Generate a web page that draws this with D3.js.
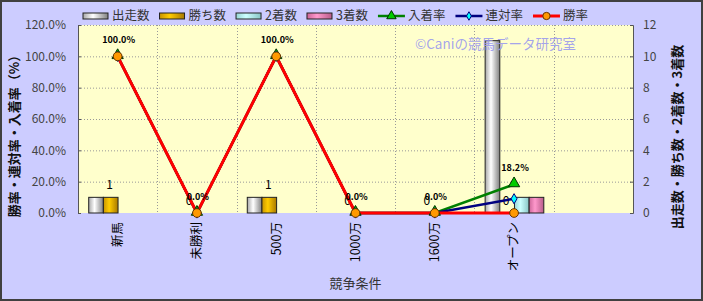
<!DOCTYPE html>
<html>
<head>
<meta charset="utf-8">
<script src="https://cdn.jsdelivr.net/npm/d3@7/dist/d3.min.js"></script>
<style>
body{margin:0;background:#fff;}
svg text{font-family:"Noto Sans CJK JP","Noto Sans",sans-serif;}
</style>
</head>
<body>
<svg id="chart" width="703" height="301"></svg>
<script>
// data
var categories = ["新馬","未勝利","500万","1000万","1600万","オープン",""];
var starts  = [1,0,1,0,0,11];
var wins    = [1,0,1,0,0,0];
var seconds = [0,0,0,0,0,1];
var thirds  = [0,0,0,0,0,1];
var placeRate   = [100,0,100,0,0,18.2];
var rentaiRate  = [100,0,100,0,0,9.1];
var winRate     = [100,0,100,0,0,0];
var leftTicks  = [0,20,40,60,80,100,120];
var rightTicks = [0,2,4,6,8,10,12];

var barSeries = [
	{name:"出走数", values:starts,  id:"gGray",  c:["#a8a8a8","#ffffff","#808080"]},
	{name:"勝ち数", values:wins,    id:"gGold",  c:["#c89400","#ffcc00","#a87800"]},
	{name:"2着数",  values:seconds, id:"gCyan",  c:["#99d6d6","#ccffff","#88c4c4"]},
	{name:"3着数",  values:thirds,  id:"gPink",  c:["#cc6699","#ff99cc","#b85c8a"]}
];
var lineSeries = [
	{name:"入着率", values:placeRate,  color:"#008000", width:2.5, sym:d3.symbolTriangle, size:55, fill:"#00cc00", stroke:"#003300"},
	{name:"連対率", values:rentaiRate, color:"#000080", width:2.5, sym:d3.symbolDiamond,  size:30, fill:"#00ffff", stroke:"#000080"},
	{name:"勝率",   values:winRate,    color:"#ff0000", width:3,   sym:d3.symbolCircle,   size:60, fill:"#ff9900", stroke:"#663300"}
];

var W = 703, H = 301;
var m = {left:78, right:70, top:25, bottom:88};
var pw = W - m.left - m.right, ph = H - m.top - m.bottom;

var svg = d3.select('#chart');
var defs = svg.append('defs');
barSeries.forEach(function(s){
	var g = defs.append('linearGradient').attr('id', s.id).attr('x1','0').attr('x2','1').attr('y1','0').attr('y2','0');
	g.append('stop').attr('offset','0%').attr('stop-color', s.c[0]);
	g.append('stop').attr('offset','40%').attr('stop-color', s.c[1]);
	g.append('stop').attr('offset','100%').attr('stop-color', s.c[2]);
});

svg.append('rect').attr('x',1).attr('y',1).attr('width',W-2).attr('height',H-2)
	.attr('fill','#ccccff').attr('stroke','#404040').attr('stroke-width',2);

var g = svg.append('g').attr('transform','translate('+m.left+','+m.top+')');

var x0 = d3.scaleBand().domain(categories).range([0,pw]).padding(0);
var bw = x0.bandwidth();
var x1 = d3.scaleBand().domain(barSeries.map(function(s){return s.name;}))
	.range([bw*0.135, bw*0.875]).padding(0);
var yL = d3.scaleLinear().domain([0,120]).range([ph,0]);
var yR = d3.scaleLinear().domain([0,12]).range([ph,0]);

g.append('rect').attr('width',pw).attr('height',ph).attr('fill','#ffffcc');

// grid
g.append('g').selectAll('line').data(leftTicks.slice(1)).enter().append('line')
	.attr('x1',0).attr('x2',pw).attr('y1',function(d){return yL(d)+0.5;}).attr('y2',function(d){return yL(d)+0.5;})
	.attr('stroke','#999').attr('stroke-dasharray','1,2');
g.append('g').selectAll('line').data(categories.slice(1)).enter().append('line')
	.attr('x1',function(d){return Math.round(x0(d))+0.5;}).attr('x2',function(d){return Math.round(x0(d))+0.5;})
	.attr('y1',0).attr('y2',ph)
	.attr('stroke','#999').attr('stroke-dasharray','1,2');

// axes
var axL = g.append('g').call(d3.axisLeft(yL).tickValues(leftTicks).tickSize(-3).tickPadding(12)
	.tickFormat(function(d){return d.toFixed(1)+'%';}));
var axR = g.append('g').attr('transform','translate('+pw+',0)')
	.call(d3.axisRight(yR).tickValues(rightTicks).tickSize(-3).tickPadding(10));
[axL,axR].forEach(function(a){
	a.select('.domain').attr('stroke','#555');
	a.selectAll('.tick line').attr('stroke','#555');
	a.selectAll('text').attr('fill','#444').style('font-size','12px');
});

// bars
var groups = g.append('g').selectAll('g').data(categories.slice(0,6)).enter().append('g')
	.attr('transform',function(d){return 'translate('+x0(d)+',0)';});
groups.selectAll('rect').data(function(d,i){
		return barSeries.map(function(s){return {s:s, v:s.values[i]};});
	}).enter().filter(function(d){return d.v>0;}).append('rect')
	.attr('x',function(d){return x1(d.s.name);})
	.attr('y',function(d){return yR(d.v);})
	.attr('width',x1.bandwidth())
	.attr('height',function(d){return ph - yR(d.v);})
	.attr('fill',function(d){return 'url(#'+d.s.id+')';})
	.attr('stroke','#222').attr('stroke-width',1);

// watermark
g.append('text').attr('x',337).attr('y',24).text('©Caniの競馬データ研究室')
	.attr('fill','#9999ee').attr('fill-opacity',0.9).style('font-size','13.5px');

// win-count labels
groups.append('text')
	.attr('x',function(d){return x1('勝ち数')+x1.bandwidth()/2 - 1;})
	.attr('y',function(d,i){return yR(wins[i])-8;})
	.attr('text-anchor','middle').style('font-size','12px').style('fill','#000')
	.text(function(d,i){return wins[i];});

// lines
var line = d3.line().x(function(d,i){return x0(categories[i])+bw/2;}).y(function(d){return yL(d);});
lineSeries.forEach(function(s){
	g.append('path').datum(s.values).attr('d',line).attr('fill','none')
		.attr('stroke',s.color).attr('stroke-width',s.width);
});
lineSeries.forEach(function(s){
	g.append('g').selectAll('path').data(s.values).enter().append('path')
		.attr('d',d3.symbol().type(s.sym).size(s.size))
		.attr('transform',function(d,i){return 'translate('+(x0(categories[i])+bw/2)+','+(yL(d)-(s.sym===d3.symbolTriangle?1:0))+')';})
		.attr('fill',s.fill).attr('stroke',s.stroke).attr('stroke-width',1);
});

// rate labels
g.append('g').selectAll('text').data(placeRate).enter().append('text')
	.attr('x',function(d,i){return x0(categories[i])+bw/2 + 1;})
	.attr('y',function(d){return yL(d)-13;})
	.attr('text-anchor','middle').style('font-size','9px').style('font-weight','bold').style('fill','#000')
	.text(function(d){return d.toFixed(1)+'%';});

// category labels
g.append('g').selectAll('text').data(categories).enter().append('text')
	.attr('transform',function(d){return 'translate('+(x0(d)+bw/2)+','+(ph+9)+') rotate(-90)';})
	.attr('text-anchor','end').attr('dy','0.35em')
	.style('font-size','12.5px').style('fill','#000')
	.text(function(d){return d;});

// titles
svg.append('text').attr('x',m.left+pw/2).attr('y',288).attr('text-anchor','middle')
	.style('font-size','13px').attr('fill','#333').text('競争条件');
svg.append('text').attr('transform','translate(19,133) rotate(-90)').attr('text-anchor','middle')
	.style('font-size','13px').style('font-weight','bold').attr('fill','#111').text('勝率・連対率・入着率（%）');
svg.append('text').attr('transform','translate(682,137) rotate(-90)').attr('text-anchor','middle')
	.style('font-size','13px').style('font-weight','bold').attr('fill','#111').text('出走数・勝ち数・2着数・3着数');

// legend
var lg = svg.append('g').attr('transform','translate(83,16)');
var lx = 0;
barSeries.forEach(function(s){
	var it = lg.append('g').attr('transform','translate('+lx+',0)');
	it.append('rect').attr('x',0).attr('y',-3).attr('width',25).attr('height',6)
		.attr('fill','url(#'+s.id+')').attr('stroke','#222');
	var t = it.append('text').attr('x',29).attr('dy','0.35em').style('font-size','12.5px').attr('fill','#333').text(s.name);
	lx += 29 + t.node().getComputedTextLength() + 10;
});
lineSeries.forEach(function(s){
	var it = lg.append('g').attr('transform','translate('+lx+',0)');
	it.append('line').attr('x1',0).attr('x2',27).attr('stroke',s.color).attr('stroke-width',s.width);
	it.append('path').attr('d',d3.symbol().type(s.sym).size(s.size*0.7)).attr('transform','translate(13.5,0)')
		.attr('fill',s.fill).attr('stroke',s.stroke);
	var t = it.append('text').attr('x',30).attr('dy','0.35em').style('font-size','12.5px').attr('fill','#333').text(s.name);
	lx += 30 + t.node().getComputedTextLength() + 10;
});
</script>
</body>
</html>
